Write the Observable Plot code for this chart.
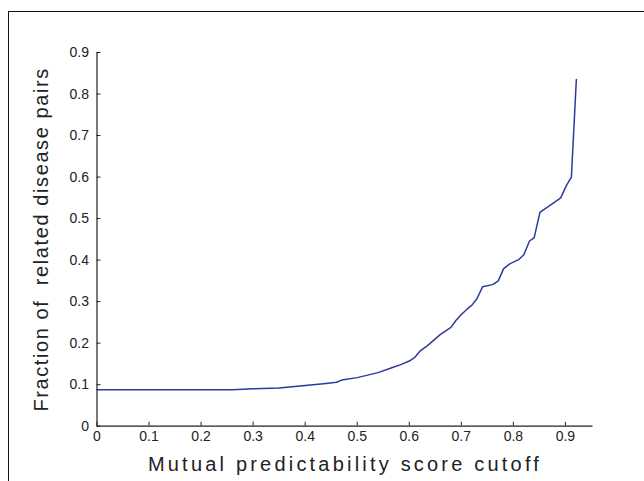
<!DOCTYPE html>
<html>
<head>
<meta charset="utf-8">
<script src="https://cdn.jsdelivr.net/npm/d3@7"></script>
<script src="https://cdn.jsdelivr.net/npm/@observablehq/plot@0.6"></script>
<style>
  html, body { margin: 0; padding: 0; background: #fff; }
  #wrap { position: relative; width: 644px; height: 481px; overflow: hidden; }
  #box { position: absolute; left: 8px; top: 11px; width: 700px; height: 600px;
         border-left: 1.3px solid #111; border-top: 1.3px solid #111; pointer-events: none; }
</style>
</head>
<body>
<div id="wrap"><div id="box"></div></div>
<script>
// Data
const cutoff = [0, 0.26, 0.30, 0.35, 0.40, 0.44, 0.46, 0.47, 0.50, 0.54, 0.565, 0.585, 0.60, 0.61, 0.62, 0.635, 0.66, 0.68, 0.69, 0.70, 0.712, 0.72, 0.73, 0.741, 0.76, 0.771, 0.781, 0.793, 0.81, 0.82, 0.831, 0.84, 0.851, 0.891, 0.902, 0.9115, 0.921];
const fraction = [0.088, 0.088, 0.090, 0.092, 0.098, 0.103, 0.106, 0.111, 0.117, 0.129, 0.140, 0.149, 0.157, 0.165, 0.180, 0.194, 0.221, 0.238, 0.255, 0.269, 0.283, 0.291, 0.307, 0.336, 0.341, 0.350, 0.379, 0.391, 0.401, 0.413, 0.446, 0.454, 0.515, 0.550, 0.580, 0.600, 0.835];
const xTicks = [0, 0.1, 0.2, 0.3, 0.4, 0.5, 0.6, 0.7, 0.8, 0.9];
const yTicks = [0, 0.1, 0.2, 0.3, 0.4, 0.5, 0.6, 0.7, 0.8, 0.9];
const xTitle = "Mutual predictability score cutoff";
const yTitle = "Fraction of  related disease pairs";

const data = cutoff.map((c, i) => ({cutoff: c, fraction: fraction[i]}));

const W = 644, H = 481;
const mL = 96.5, mR = 51.5, mT = 52, mB = 55.3;
const innerW = W - mL - mR, innerH = H - mT - mB;
const tickLen = 4;

const chart = Plot.plot({
  width: W, height: H,
  marginLeft: mL, marginRight: mR, marginTop: mT, marginBottom: mB,
  style: {fontFamily: "'Liberation Sans', Arial, sans-serif", fontSize: "14px", color: "#222", background: "transparent", overflow: "visible"},
  x: {domain: [0, 0.953]},
  y: {domain: [0, 0.9]},
  marks: [
    Plot.line(data, {x: "cutoff", y: "fraction", stroke: "#2c3a9e", strokeWidth: 1.5}),
    Plot.ruleY([0], {stroke: "#222", strokeWidth: 1.2}),
    Plot.ruleX([0], {stroke: "#222", strokeWidth: 1.2}),
    Plot.tickX(xTicks, {x: d => d, insetTop: innerH - tickLen, stroke: "#222", strokeWidth: 1}),
    Plot.tickY(yTicks, {y: d => d, insetRight: innerW - tickLen, stroke: "#222", strokeWidth: 1}),
    Plot.axisX(xTicks, {tickSize: 0, tickPadding: 5, label: null, tickFormat: d => String(d), fontSize: 14}),
    Plot.axisY(yTicks, {tickSize: 0, tickPadding: 8, label: null, tickFormat: d => String(d), fontSize: 14}),
    Plot.text([xTitle], {frameAnchor: "bottom", dy: 45, fontSize: 20, fill: "#222", text: d => d}),
    Plot.text([yTitle], {frameAnchor: "left", textAnchor: "middle", dx: -55, rotate: -90, fontSize: 20, fill: "#222", text: d => d})
  ]
});

d3.select(chart).selectAll("text")
  .filter(function() { return this.textContent === xTitle; })
  .style("letter-spacing", "3.2px");
d3.select(chart).selectAll("text")
  .filter(function() { return this.textContent === yTitle; })
  .style("letter-spacing", "1.6px")
  .style("white-space", "pre");

const wrap = document.getElementById("wrap");
chart.style.position = "absolute";
chart.style.left = "0";
chart.style.top = "0";
wrap.insertBefore(chart, wrap.firstChild);
</script>
</body>
</html>
